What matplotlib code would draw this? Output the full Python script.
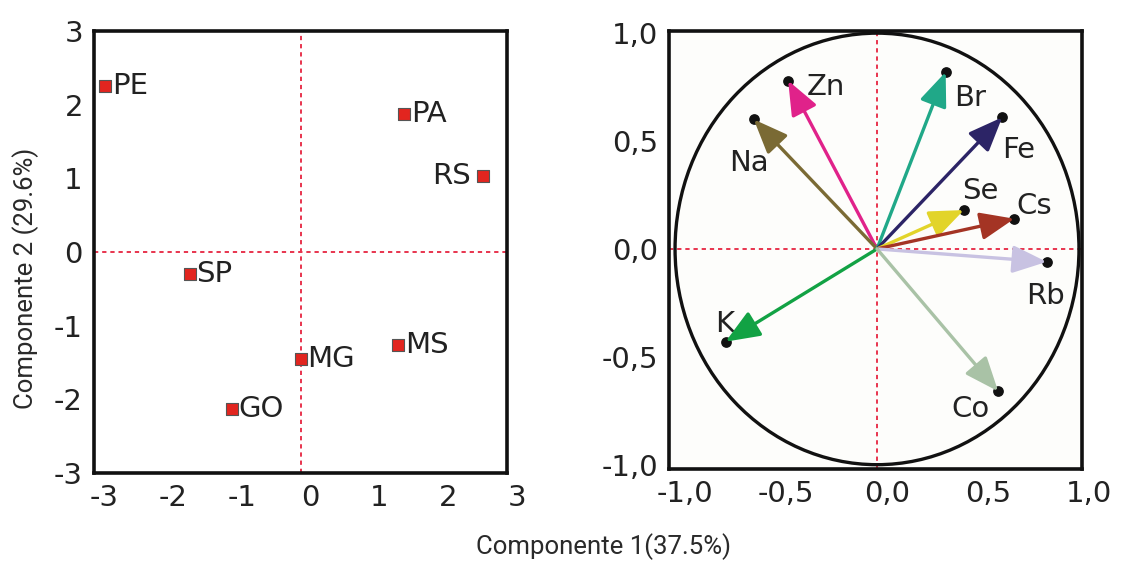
import matplotlib
matplotlib.use("Agg")
import matplotlib.pyplot as plt
from matplotlib.patches import Ellipse, FancyArrowPatch
from matplotlib.transforms import ScaledTranslation

plt.rcParams["font.family"] = ["DejaVu Sans"]
plt.rcParams["axes.unicode_minus"] = False

# Sample scores on the first two principal components
sites = ["PE", "PA", "RS", "SP", "MG", "MS", "GO"]
score_pc1 = [-2.84, 1.50, 2.65, -1.61, 0.00, 1.42, -1.00]
score_pc2 = [2.25, 1.87, 1.03, -0.30, -1.45, -1.26, -2.13]

# Element loadings (correlation circle)
elements = ["Zn", "Na", "Br", "Fe", "Se", "Cs", "Rb", "K", "Co"]
load_pc1 = [-0.44, -0.61, 0.34, 0.62, 0.43, 0.68, 0.84, -0.75, 0.60]
load_pc2 = [0.78, 0.60, 0.82, 0.61, 0.18, 0.14, -0.06, -0.43, -0.66]
element_colors = ["#e0228a", "#7a6a34", "#20a888", "#2c2466", "#e2d42a",
                  "#a43424", "#c8c2e2", "#12a244", "#a9c2a6"]

score_ticks = [-3, -2, -1, 0, 1, 2, 3]
score_ticklabels = ["-3", "-2", "-1", "0", "1", "2", "3"]
load_ticks = [-1.0, -0.5, 0.0, 0.5, 1.0]
load_ticklabels = ["-1,0", "-0,5", "0,0", "0,5", "1,0"]

title_kw = dict(fontsize=18.5, family=["Roboto", "DejaVu Sans"], weight="normal",
                color="#2a2a2a", ha="center", va="center")

W, H = 1147, 562
fig = plt.figure(figsize=(W / 100, H / 100), dpi=100)

ax1 = fig.add_axes([94 / W, (H - 473) / H, 413 / W, 442 / H])
ax2 = fig.add_axes([669 / W, (H - 469) / H, 413 / W, 438 / H])

guide = dict(color="#e8344e", lw=1.4, ls=(0, (2.2, 2.0)), zorder=1)
tick_fs = 21
label_fs = 21

# ---- score plot ----
ax1.set_xlim(-3, 3)
ax1.set_ylim(-3, 3)
ax1.axhline(0, **guide)
ax1.axvline(0, **guide)
ax1.scatter(score_pc1, score_pc2, marker="s", s=64, color="#e2251f",
            edgecolors="#555555", linewidths=0.8, zorder=3)
for name, x, y in zip(sites, score_pc1, score_pc2):
    if name == "RS":
        ax1.text(x - 0.18, y, name, ha="right", va="center",
                 fontsize=label_fs, color="#222222")
    else:
        ax1.text(x + 0.1, y, name, ha="left", va="center",
                 fontsize=label_fs, color="#222222")
ax1.set_xticks(score_ticks)
ax1.set_xticklabels(score_ticklabels)
ax1.set_yticks(score_ticks)
ax1.set_yticklabels(score_ticklabels)

# ---- correlation circle ----
ax2.set_xlim(-1.03, 1.015)
ax2.set_ylim(-1.02, 1.01)
ax2.set_facecolor("#fdfdfb")
ax2.axhline(0, **guide)
ax2.axvline(0, **guide)
ax2.add_patch(Ellipse((0, 0), 2, 2, fill=False, lw=2.4, color="#111111", zorder=2))
ax2.scatter(load_pc1, load_pc2, s=45, color="#111111", zorder=3)
for x, y, c in zip(load_pc1, load_pc2, element_colors):
    arr = FancyArrowPatch((0, 0), (x, y),
                          arrowstyle="-|>,head_length=21,head_width=8.5",
                          mutation_scale=1, color=c, lw=2.4,
                          shrinkA=0, shrinkB=0, zorder=4)
    ax2.add_patch(arr)

label_pos = {
    "Zn": (-0.35, 0.75),
    "Na": (-0.73, 0.40),
    "Br": (0.38, 0.70),
    "Fe": (0.62, 0.46),
    "Se": (0.42, 0.27),
    "Cs": (0.69, 0.20),
    "Rb": (0.74, -0.22),
    "K": (-0.80, -0.35),
    "Co": (0.37, -0.74),
}
for name in elements:
    lx, ly = label_pos[name]
    ax2.text(lx, ly, name, ha="left", va="center", fontsize=label_fs, color="#222222")

ax2.set_xticks(load_ticks)
ax2.set_xticklabels(load_ticklabels)
ax2.set_yticks(load_ticks)
ax2.set_yticklabels(load_ticklabels)

shift = ScaledTranslation(10 / 100, 0, fig.dpi_scale_trans)
for ax in (ax1, ax2):
    for s in ax.spines.values():
        s.set_linewidth(2.6)
        s.set_color("#111111")
    ax.tick_params(length=0, labelsize=tick_fs, colors="#222222", pad=8)
    for lab in ax.get_xticklabels():
        lab.set_transform(lab.get_transform() + shift)

fig.text(603 / W, 1 - 547 / H, "Componente 1(37.5%)", **title_kw)
fig.text(26 / W, 1 - 278 / H, "Componente 2 (29.6%)", rotation=90, **title_kw)

fig.savefig("out.png", dpi=100)
